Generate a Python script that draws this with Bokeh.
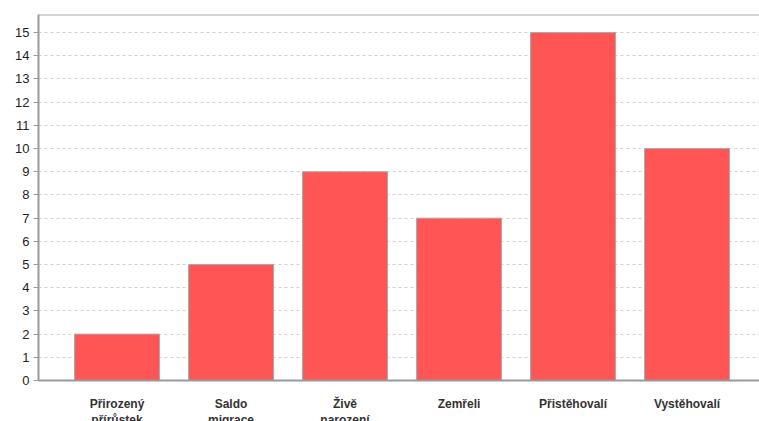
from bokeh.plotting import figure
from bokeh.models import Range1d, FixedTicker, Span, ColumnDataSource
from bokeh.embed import file_html
from bokeh.resources import INLINE

categories = ["Přirozený\npřírůstek", "Saldo\nmigrace", "Živě\nnarození", "Zemřeli", "Přistěhovalí", "Vystěhovalí"]
values = [2, 5, 9, 7, 15, 10]
y_ticks = list(range(0, 16))

xs = list(range(len(categories)))
src = ColumnDataSource(dict(x=xs, top=values))

p = figure(frame_width=721, frame_height=366, output_backend="svg", toolbar_location=None,
           x_range=Range1d(-0.689, 5.636), y_range=Range1d(0, 15.78),
           min_border_left=38, min_border_right=0, min_border_top=14, min_border_bottom=10)
p.outline_line_color = None
p.background_fill_color = "white"
p.border_fill_color = "white"

p.vbar(x="x", top="top", width=0.745, bottom=0, source=src,
       fill_color="#FF5555", line_color="#AAAAAA", line_width=1)

p.add_layout(Span(location=15.78, dimension="width", line_color="#AAAAAA", line_width=2))

p.xgrid.grid_line_color = None
p.ygrid.grid_line_color = "#D0D0D0"
p.ygrid.grid_line_dash = "3 3"
p.ygrid.ticker = FixedTicker(ticks=y_ticks)

p.yaxis.ticker = FixedTicker(ticks=y_ticks)
p.yaxis.axis_line_color = "#999999"
p.yaxis.axis_line_width = 2
p.yaxis.major_tick_line_color = "#999999"
p.yaxis.major_tick_out = 5
p.yaxis.major_tick_in = 0
p.yaxis.minor_tick_line_color = None
p.yaxis.major_label_text_font = "Liberation Sans"
p.yaxis.major_label_text_font_size = "13px"
p.yaxis.major_label_text_color = "#222222"
p.yaxis.major_label_standoff = 4

p.xaxis.ticker = FixedTicker(ticks=xs)
p.xaxis.major_label_overrides = {i: c for i, c in enumerate(categories)}
p.xaxis.axis_line_color = "#999999"
p.xaxis.axis_line_width = 2
p.xaxis.major_tick_line_color = None
p.xaxis.minor_tick_line_color = None
p.xaxis.major_label_text_font = "Liberation Sans"
p.xaxis.major_label_text_font_size = "12px"
p.xaxis.major_label_text_font_style = "bold"
p.xaxis.major_label_text_color = "#333333"
p.xaxis.major_label_standoff = 10

open("out.html", "w").write(file_html(p, INLINE))
